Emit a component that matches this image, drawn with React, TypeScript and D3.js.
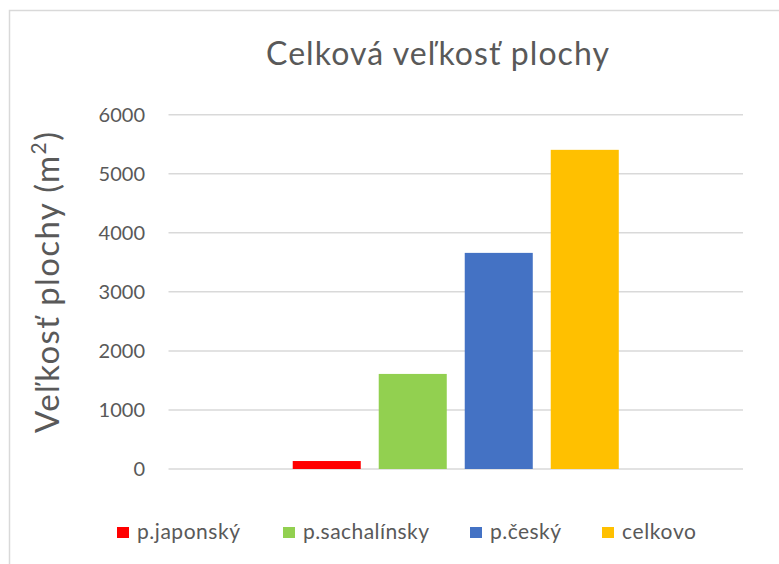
import React from "react";
import * as d3 from "d3";

const categories = ["Celková veľkosť plochy"];
const seriesNames = ["p.japonský", "p.sachalínsky", "p.český", "celkovo"];
const seriesValues = [135, 1610, 3660, 5405];
const seriesColors = ["#ff0000", "#92d050", "#4472c4", "#ffc000"];
const yTicks = [0, 1000, 2000, 3000, 4000, 5000, 6000];
const titleText = "Celková veľkosť plochy";
const yLabelText = "Veľkosť plochy (m";

const W = 779;
const H = 564;
const FONT = "Lato, 'Open Sans', sans-serif";
const TEXT = "#595959";
const GRID = "#d9d9d9";

export default function App() {
  const plotLeft = 168.5;
  const plotRight = 743;
  const y = d3.scaleLinear().domain([0, 6000]).range([469, 114.7]);
  const x0 = d3
    .scaleBand<string>()
    .domain(categories)
    .range([plotLeft, plotRight])
    .paddingInner(0)
    .paddingOuter(0.381);
  const x1 = d3
    .scaleBand<string>()
    .domain(seriesNames)
    .range([0, x0.bandwidth()])
    .paddingInner(0.209)
    .paddingOuter(0);

  const legendSquareX = [117, 283, 470, 602];
  const legendTextLen = [103, 126, 71, 74];

  return (
    <div style={{ position: "absolute", left: 0, top: 0 }}>
      <svg width={W} height={H} style={{ display: "block", background: "#fff" }}>
        <rect x={9.5} y={10.5} width={W + 20} height={H + 20} fill="#fff" stroke={GRID} strokeWidth={1.5} />
        <text
          x={266}
          y={65}
          fill={TEXT}
          fontFamily={FONT}
          fontSize={32}
          textLength={343}
          lengthAdjust="spacing"
        >
          {titleText}
        </text>
        <text
          transform={`translate(59,433) rotate(-90)`}
          fill={TEXT}
          fontFamily={FONT}
          fontSize={33}
          textLength={301}
          lengthAdjust="spacing"
        >
          {yLabelText}
          <tspan fontSize={21} dy={-13}>2</tspan>
          <tspan dy={13}>)</tspan>
        </text>
        {yTicks.map((t) => (
          <g key={t}>
            <line x1={plotLeft} x2={plotRight} y1={y(t)} y2={y(t)} stroke={GRID} strokeWidth={1.5} />
            <text
              x={145}
              y={y(t)}
              dy="0.36em"
              textAnchor="end"
              fill={TEXT}
              fontFamily={FONT}
              fontSize={20}
            >
              {t}
            </text>
          </g>
        ))}
        {categories.map((c) => (
          <g key={c} transform={`translate(${x0(c)},0)`}>
            {seriesNames.map((s, i) => (
              <rect
                key={s}
                x={x1(s)}
                y={y(seriesValues[i])}
                width={x1.bandwidth()}
                height={y(0) - y(seriesValues[i])}
                fill={seriesColors[i]}
              />
            ))}
          </g>
        ))}
        {seriesNames.map((s, i) => (
          <g key={s}>
            <rect x={legendSquareX[i]} y={527} width={12} height={11} fill={seriesColors[i]} />
            <text
              x={legendSquareX[i] + 20}
              y={539}
              fill={TEXT}
              fontFamily={FONT}
              fontSize={21}
              textLength={legendTextLen[i]}
              lengthAdjust="spacing"
            >
              {s}
            </text>
          </g>
        ))}
      </svg>
    </div>
  );
}
